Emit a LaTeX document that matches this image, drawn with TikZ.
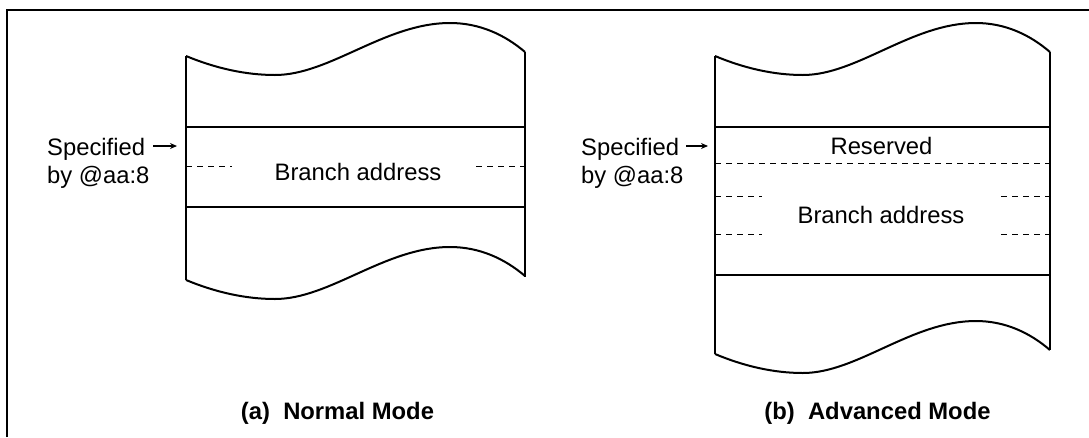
\documentclass[tikz,border=0pt]{standalone}
\usepackage{fontspec}
\setmainfont{Liberation Sans}
\usetikzlibrary{arrows.meta}
\tikzset{
  boxline/.style={line width=2pt, line join=miter, line cap=butt},
  dashline/.style={line width=1pt, dash pattern=on 6pt off 5pt},
  frameline/.style={line width=2.8pt},
  lbl/.style={font=\fontsize{23.8}{28}\selectfont, inner sep=0pt},
  ttl/.style={font=\fontsize{23.8}{28}\selectfont\bfseries, inner sep=0pt},
  ptr/.style={line width=1.2pt, -{Stealth[length=7pt,width=6pt]}},
  wave/.pic={\draw[boxline] (0,0) .. controls (29,12) and (59,19) .. (89,19)
     .. controls (144,19) and (199,-33) .. (264,-33)
     .. controls (294,-33) and (319,-21) .. (339,-4);}
}
\begin{document}
\begin{tikzpicture}[x=1pt,y=-1pt]
\useasboundingbox (0,0) rectangle (1089,437);
% frame
\draw[frameline] (7,437) -- (7,10) -- (1089,10);

% ===== (a) Normal mode =====
\pic at (186,56) {wave};
\pic at (186,280) {wave};
\draw[boxline] (186,56) -- (186,280);
\draw[boxline] (525,52) -- (525,277);
\draw[boxline] (186,127) -- (525,127);
\draw[boxline] (186,207) -- (525,207);
\draw[dashline] (186,166) -- (232,166);
\draw[dashline] (476,166) -- (525,166);
\node[lbl, anchor=base] (brA) at (358,180) {Branch address};
\node[lbl, anchor=base west] (specA) at (47,155) {Specified};
\node[lbl, anchor=base west] (byA) at (47,183) {by @aa:8};
\coordinate (arrA) at (153,146);
\coordinate (tipA) at (177,146);
\draw[ptr] (arrA) -- (tipA);
\node[ttl, anchor=base] (ttlA) at (337.5,419) {(a)\ \ Normal Mode};

% ===== (b) Advanced mode =====
\pic[xscale=0.988] at (715,56) {wave};
\pic[xscale=0.988] at (715,354) {wave};
\draw[boxline] (715,56) -- (715,354);
\draw[boxline] (1050,52) -- (1050,350);
\draw[boxline] (715,127) -- (1050,127);
\draw[boxline] (715,275) -- (1050,275);
\draw[dashline] (715,163) -- (1050,163);
\draw[dashline] (715,196) -- (762,196);
\draw[dashline] (1001,196) -- (1050,196);
\draw[dashline] (715,234) -- (762,234);
\draw[dashline] (1001,234) -- (1050,234);
\node[lbl, anchor=base] (resB) at (881.5,154) {Reserved};
\node[lbl, anchor=base] (brB) at (881,223) {Branch address};
\node[lbl, anchor=base west] (specB) at (581,155) {Specified};
\node[lbl, anchor=base west] (byB) at (581,183) {by @aa:8};
\coordinate (arrB) at (686,146);
\coordinate (tipB) at (708,146);
\draw[ptr] (arrB) -- (tipB);
\node[ttl, anchor=base] (ttlB) at (877.5,419) {(b)\ \ Advanced Mode};
\end{tikzpicture}
\end{document}
